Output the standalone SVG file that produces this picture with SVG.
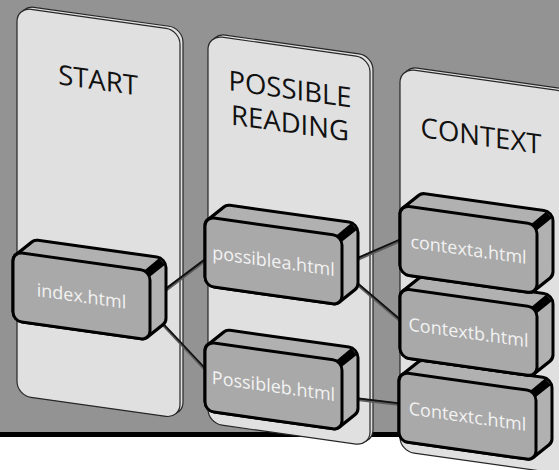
<svg xmlns="http://www.w3.org/2000/svg" width="559" height="470" viewBox="0 0 559 470">
  <style>
    .card { fill: #e0e0e0; stroke: #262626; stroke-width: 1.2; }
    .title { font-family: "Open Sans", "Noto Sans", sans-serif; font-size: 27.5px; fill: #111; text-anchor: middle; }
    .label { font-family: "Open Sans", "Noto Sans", sans-serif; font-size: 18px; fill: #f2f2f2; text-anchor: middle; }
    .side { fill: #b1b1b1; stroke: #000; stroke-width: 3; stroke-linejoin: round; }
    .front { fill: #a9a9a9; stroke: #000; stroke-width: 3; }
    .edge { fill: #000; }
    .wire { stroke: #111; stroke-width: 1.8; fill: none; }
    .wire-shade { stroke: #5c5c5c; stroke-width: 3.2; fill: none; }
  </style>
  <defs>
    <!-- extruded rounded block: silhouette, dark corner edge, front face -->
    <g id="block">
      <path class="side" d="M0,60 L0,9 A9,9 0 0 1 2.84,2.43 L18.84,-12.57 A9,9 0 0 1 25,-15 L144,-15 A9,9 0 0 1 153,-6 L153,45 A9,9 0 0 1 150.16,51.57 L134.16,66.57 A9,9 0 0 1 128,69 L9,69 A9,9 0 0 1 0,60 Z"/>
      <path class="edge" d="M131,0.5 L146,-14 L152,-8.5 L136.5,6 Z"/>
      <rect class="front" x="0" y="0" width="137" height="69" rx="9"/>
    </g>
  </defs>

  <!-- backdrop -->
  <rect width="559" height="470" fill="#fff"/>
  <rect width="559" height="432" fill="#939393"/>
  <rect y="432" width="559" height="5" fill="#000"/>

  <g transform="skewY(8)">
    <!-- columns -->
    <g id="col-start">
      <rect class="card" x="20" y="2.5" width="163" height="388" rx="14"/>
      <rect class="card" x="17" y="5" width="163" height="388" rx="14"/>
      <text class="title" x="98" y="76">START</text>
    </g>
    <g id="col-possible">
      <rect class="card" x="211" y="3.5" width="162" height="388" rx="14"/>
      <rect class="card" x="208" y="6" width="162" height="388" rx="14"/>
      <text class="title" x="290" y="58">POSSIBLE</text>
      <text class="title" x="290" y="92">READING</text>
    </g>
    <g id="col-context">
      <rect class="card" x="403" y="9.5" width="170" height="383" rx="14"/>
      <rect class="card" x="400" y="12" width="170" height="383" rx="14"/>
      <text class="title" x="481" y="78">CONTEXT</text>
    </g>

    <!-- links -->
    <g id="connectors">
      <g transform="translate(0,1.2)">
        <path class="wire-shade" d="M145,284 L210,226 M145,284 L210,344 M338,219 L404,181 M338,219 L404,266 M338,348.5 L404,347"/>
      </g>
      <path class="wire" d="M145,284 L210,226 M145,284 L210,344 M338,219 L404,181 M338,219 L404,266 M338,348.5 L404,347"/>
    </g>

    <!-- pages -->
    <g id="node-index" transform="translate(13,250)">
      <use href="#block"/>
      <text class="label" x="68.5" y="41">index.html</text>
    </g>
    <g id="node-possiblea" transform="translate(205,188)">
      <use href="#block"/>
      <text class="label" x="68.5" y="41">possiblea.html</text>
    </g>
    <g id="node-possibleb" transform="translate(205,313)">
      <use href="#block"/>
      <text class="label" x="68.5" y="41">Possibleb.html</text>
    </g>
    <g id="node-contextc" transform="translate(399,316)">
      <use href="#block"/>
      <text class="label" x="68.5" y="41">Contextc.html</text>
    </g>
    <g id="node-contextb" transform="translate(400,232)">
      <use href="#block"/>
      <text class="label" x="68.5" y="41">Contextb.html</text>
    </g>
    <g id="node-contexta" transform="translate(400,149)">
      <use href="#block"/>
      <text class="label" x="68.5" y="41">contexta.html</text>
    </g>
  </g>
</svg>
